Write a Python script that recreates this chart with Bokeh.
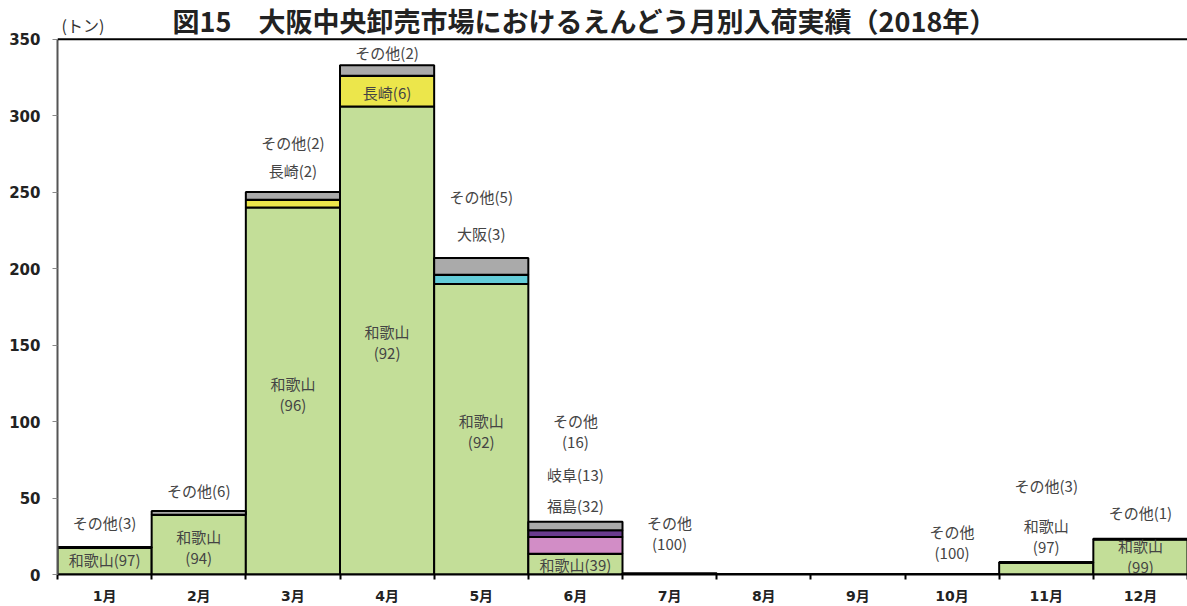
from bokeh.plotting import figure
from bokeh.models import ColumnDataSource, Range1d, FixedTicker, Span, Label
from bokeh.core.properties import value
from bokeh.embed import file_html
from bokeh.resources import INLINE

# ---- data (tons) ----
months = ["1月", "2月", "3月", "4月", "5月", "6月", "7月", "8月", "9月", "10月", "11月", "12月"]
wakayama = [17.5, 39.0, 240.0, 306.0, 190.0, 13.5, 0.0, 0.0, 0.0, 0.0, 7.8, 23.1]
nagasaki = [0.0, 0.0, 5.0, 20.0, 0.0, 0.0, 0.0, 0.0, 0.0, 0.0, 0.0, 0.0]
osaka = [0.0, 0.0, 0.0, 0.0, 6.0, 0.0, 0.0, 0.0, 0.0, 0.0, 0.0, 0.0]
fukushima = [0.0, 0.0, 0.0, 0.0, 0.0, 11.0, 0.0, 0.0, 0.0, 0.0, 0.0, 0.0]
gifu = [0.0, 0.0, 0.0, 0.0, 0.0, 4.5, 0.0, 0.0, 0.0, 0.0, 0.0, 0.0]
others = [0.5, 2.5, 5.0, 7.0, 11.0, 5.5, 0.8, 0.0, 0.0, 0.4, 0.2, 0.2]
y_ticks = [0, 50, 100, 150, 200, 250, 300, 350]
y_max = 350

# annotation texts (month, text, height in tons)
label_month = ["1月", "1月", "2月", "2月", "3月", "3月", "3月", "4月", "4月", "4月",
               "5月", "5月", "5月", "6月", "6月", "6月", "6月", "7月", "10月",
               "11月", "11月", "12月", "12月"]
label_text = ["和歌山(97)", "その他(3)", "和歌山\n(94)", "その他(6)",
              "和歌山\n(96)", "長崎(2)", "その他(2)",
              "和歌山\n(92)", "長崎(6)", "その他(2)",
              "和歌山\n(92)", "大阪(3)", "その他(5)",
              "和歌山(39)", "福島(32)", "岐阜(13)", "その他\n(16)",
              "その他\n(100)", "その他\n(100)",
              "その他(3)", "和歌山\n(97)", "その他(1)", "和歌山\n(99)"]
label_y = [10.0, 33.7, 18.0, 55.0,
           118.0, 264.0, 282.6,
           152.0, 315.0, 341.5,
           94.0, 223.0, 247.0,
           6.5, 45.4, 65.5, 94.0,
           27.0, 21.4,
           58.3, 25.3, 40.8, 12.0]

stackers = ["wakayama", "nagasaki", "osaka", "fukushima", "gifu", "others"]
colors = ["#C3DE98", "#ECE64B", "#63CCD8", "#D28DC6", "#6A3B8E", "#AAAAAA"]

xs = [i + 1 for i in range(len(months))]
src = ColumnDataSource(dict(x=xs, wakayama=wakayama, nagasaki=nagasaki, osaka=osaka,
                            fukushima=fukushima, gifu=gifu, others=others))

# frame reaches the top of the canvas so that title texts are inside it;
# 350 t sits 39 px below the top (frame height 579 px)
FRAME_H = 579
top_pad = y_max * FRAME_H / (FRAME_H - 39)

p = figure(width=1187, height=606, output_backend="svg", toolbar_location=None,
           x_range=Range1d(0.5, 12.5), y_range=Range1d(0, top_pad),
           min_border_left=57, min_border_right=0, min_border_top=0, min_border_bottom=27)
p.outline_line_color = None
p.xgrid.visible = False
p.ygrid.visible = False
p.background_fill_color = "white"
p.border_fill_color = "white"

p.vbar_stack(stackers, x="x", width=1.0, source=src, fill_color=colors,
             line_color="black", line_width=2)

p.add_layout(Span(location=y_max, dimension="width", line_color="black", line_width=2))

# labels
lx = [months.index(m) + 1 for m in label_month]
lsrc = ColumnDataSource(dict(x=lx, y=label_y, t=label_text))
p.text(x="x", y="y", text="t", source=lsrc, text_align="center", text_baseline="middle",
       text_font=value("Noto Sans CJK JP"), text_font_size="15px", text_color="#444444",
       text_line_height=1.0)

# axes
ya = p.yaxis[0]
ya.ticker = FixedTicker(ticks=y_ticks)
ya.bounds = (0, y_max)
ya.axis_line_color = "#555555"
ya.axis_line_width = 2
ya.major_tick_out = 5
ya.major_tick_in = 0
ya.major_tick_line_color = "#888888"
ya.minor_tick_line_color = None
ya.major_label_standoff = 12
ya.major_label_text_font = "DejaVu Sans"
ya.major_label_text_font_style = "bold"
ya.major_label_text_font_size = "15px"
ya.major_label_text_color = "#222222"

xa = p.xaxis[0]
xa.ticker = FixedTicker(ticks=xs, minor_ticks=[i + 0.5 for i in range(len(months) + 1)])
xa.major_label_overrides = {x: m for x, m in zip(xs, months)}
xa.axis_line_color = "black"
xa.axis_line_width = 2
xa.major_tick_out = 0
xa.major_tick_in = 0
xa.major_tick_line_color = None
xa.minor_tick_out = 5
xa.minor_tick_in = 0
xa.minor_tick_line_color = "black"
xa.minor_tick_line_width = 2
xa.major_label_standoff = 8
xa.major_label_text_font = "DejaVu Sans, Noto Sans CJK JP"
xa.major_label_text_font_style = "bold"
xa.major_label_text_font_size = "14px"
xa.major_label_text_color = "#222222"

# unit label and title
p.add_layout(Label(x=0.77, y=359.0, text="(トン)",
                   text_align="center", text_baseline="middle",
                   text_font="Noto Sans CJK JP", text_font_size="16px",
                   text_color="#333333"))
p.add_layout(Label(x=6.1, y=349.7, text="図15　大阪中央卸売市場におけるえんどう月別入荷実績（2018年）",
                   text_align="center", text_baseline="bottom",
                   text_font="Noto Sans CJK JP", text_font_size="27px",
                   text_font_style="bold", text_color="#222222"))

open("out.html", "w").write(file_html(p, INLINE))
